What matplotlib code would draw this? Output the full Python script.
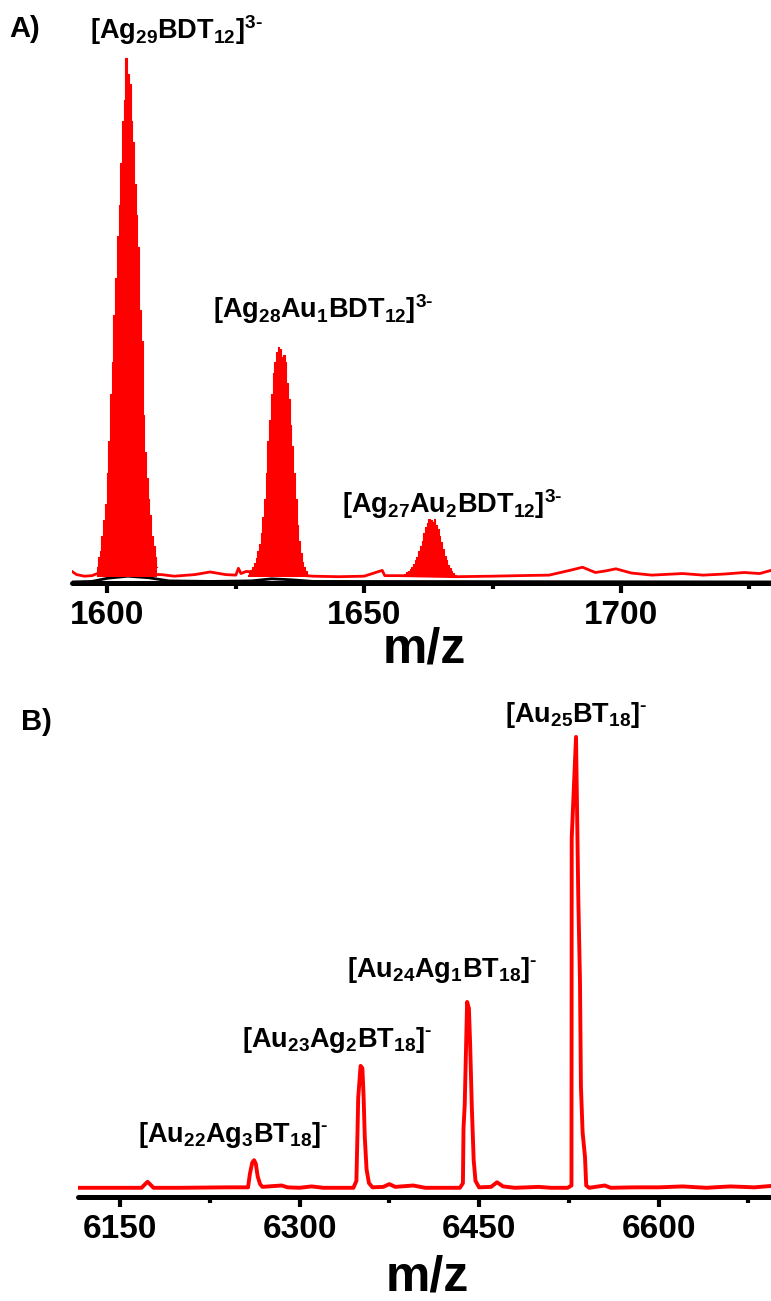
import numpy as np
import matplotlib
matplotlib.use("Agg")
import matplotlib.pyplot as plt

plt.rcParams["font.family"] = ["Liberation Sans", "DejaVu Sans"]
plt.rcParams["font.weight"] = "bold"
plt.rcParams["mathtext.fontset"] = "custom"
plt.rcParams["mathtext.bf"] = "Liberation Sans:bold"
plt.rcParams["mathtext.rm"] = "Liberation Sans:bold"
plt.rcParams["mathtext.it"] = "Liberation Sans:bold:italic"

RED = "#ff0000"
NARROW = ["Liberation Sans Narrow", "Liberation Sans", "DejaVu Sans"]
HY = "\u2010"  # short hyphen used for the charge sign

# ---------------- Panel A: ESI spectrum of Ag29(BDT)12 (3- ions) ----------------
iso_step_a = 1.0 / 3.0  # isotope spacing for a 3- ion

ag29_start = 1598.0
ag29_heights = [3, 5, 6, 9, 12, 15, 21, 27, 36, 42, 51, 58, 66, 72, 80, 88, 92, 100,
                97, 95, 88, 84, 76, 70, 64, 52, 46, 32, 25, 20, 16, 13, 9, 7, 5, 3]

ag28au1_start = 1627.33
ag28au1_heights = [1.5, 2, 2.5, 3, 3.8, 4.8, 6, 7.5, 9.5, 12.5, 16, 21, 27, 31, 36, 40, 42, 44,
                   45, 44.5, 43, 43.5, 42, 38, 35, 30, 26, 21, 16, 11, 8, 5.7, 4, 3, 2.2, 1.6]

ag27au2_start = 1657.33
ag27au2_heights = [1.4, 1.6, 1.8, 2.0, 2.3, 2.6, 3.0, 3.6, 4.3, 5.0, 6.0, 7.0, 8.0, 9.5, 10.7,
                   11.5, 12.2, 12.0, 11.6, 12.1, 11.0, 10.2, 9.0, 7.8, 6.5, 5.2, 4.3, 3.5, 2.8,
                   2.3, 1.9, 1.6, 1.4]

# red baseline (noise level between the clusters)
base_a_mz = [1593.1, 1594.0, 1595.5, 1597.0, 1598.0, 1610.5, 1613.0, 1617.0, 1620.0, 1623.0,
             1625.0, 1625.5, 1626.0, 1627.0, 1640.0, 1645.0, 1650.0, 1653.5, 1654.0, 1657.0,
             1668.0, 1675.0, 1680.0, 1686.0, 1690.0, 1692.5, 1695.0, 1697.0, 1699.0, 1702.0,
             1706.0, 1712.0, 1716.0, 1720.0, 1724.0, 1727.0, 1729.2]
base_a_int = [2.2, 1.6, 1.3, 1.4, 1.8, 1.6, 1.3, 1.6, 2.1, 1.6,
              1.5, 2.8, 1.8, 2.2, 1.3, 1.2, 1.3, 2.4, 1.4, 1.4,
              1.2, 1.3, 1.4, 1.5, 2.4, 3.0, 2.0, 2.3, 2.7, 1.9,
              1.5, 1.8, 1.5, 1.7, 2.0, 1.8, 2.4]

# second (black) trace lying close to the axis
black_a_mz = [1593.1, 1597.0, 1600.0, 1604.0, 1608.0, 1612.0, 1620.0, 1628.0, 1632.0,
              1636.0, 1640.0, 1729.2]
black_a_int = [0.2, 0.3, 0.9, 1.3, 1.0, 0.4, 0.3, 0.4, 0.8, 0.6, 0.3, 0.2]

ticks_a = [1600, 1650, 1700]
minor_a = [1625, 1675, 1725]
xlim_a = (1593.1, 1729.2)

# ---------------- Panel B: MALDI spectrum of Au25-xAgx(BT)18 (1- ions) ----------------
mz_b = [6114.9, 6140, 6168, 6171, 6173, 6175, 6178, 6200, 6240,
        6257, 6258.5, 6260.5, 6262, 6263.5, 6265, 6267, 6269,
        6285, 6290, 6300, 6310, 6320,
        6345, 6347.5, 6348.5, 6349, 6351, 6352.5, 6353.5, 6354.5, 6356, 6358, 6361,
        6370, 6375, 6380, 6395, 6405,
        6434, 6436.5, 6437, 6438, 6440, 6441.5, 6442.5, 6444, 6445.5, 6447, 6450,
        6460, 6465, 6470, 6480, 6500, 6510,
        6524, 6527.2, 6527.4, 6531.0, 6532.9, 6534.3, 6535.1, 6536.5, 6538.5, 6539.5, 6542,
        6555, 6560, 6580, 6600, 6620, 6640, 6660, 6680, 6694]
int_b = [2.0, 2.0, 2.0, 2.8, 3.3, 2.8, 2.0, 2.0, 2.1,
         2.1, 5.0, 7.5, 8.0, 7.2, 4.5, 2.8, 2.2,
         2.5, 2.1, 2.0, 2.3, 2.0,
         2.0, 3.5, 15.0, 21.5, 28.5, 28.0, 22.0, 13.0, 6.0, 3.0, 2.1,
         2.2, 2.8, 2.2, 2.5, 2.0,
         2.0, 3.0, 15.0, 20.0, 42.4, 41.0, 33.5, 19.0, 8.0, 3.5, 2.1,
         2.2, 3.2, 2.3, 2.0, 2.2, 2.0,
         2.0, 2.5, 78.0, 100.0, 65.0, 47.0, 24.0, 14.0, 8.7, 2.5, 2.0,
         2.5, 2.0, 2.1, 2.1, 2.3, 2.0, 2.3, 2.1, 2.4]

ticks_b = [6150, 6300, 6450, 6600]
minor_b = [6225, 6375, 6525, 6675]
xlim_b = (6114.9, 6693.9)

# ---------------- layout helpers (pixel -> figure fraction) ----------------
W, H = 771, 1301
fig = plt.figure(figsize=(W / 100, H / 100), dpi=100)


def fx(px):
    return px / W


def fy(py):
    return 1 - py / H


def style_axis(ax, ticks):
    for side in ("left", "top", "right"):
        ax.spines[side].set_visible(False)
    ax.spines["bottom"].set_linewidth(3.6)
    ax.spines["bottom"].set_capstyle("round")
    ax.set_yticks([])
    ax.set_xticks(ticks)
    ax.set_xticklabels([str(t) for t in ticks], family=NARROW, fontsize=24,
                       fontweight="bold")
    ax.tick_params(axis="x", which="major", direction="out", length=7, width=3, pad=5)
    ax.tick_params(axis="x", which="minor", direction="out", length=4.5, width=3)
    ax.patch.set_alpha(0)


# ---- Panel A ----
axA = fig.add_axes([fx(72), fy(583), fx(771) - fx(72), fy(20) - fy(583)])
axA.plot(black_a_mz, black_a_int, color="black", lw=2.0, zorder=1)
axA.plot(base_a_mz, base_a_int, color=RED, lw=2.0, zorder=2)
for start, heights in ((ag29_start, ag29_heights),
                       (ag28au1_start, ag28au1_heights),
                       (ag27au2_start, ag27au2_heights)):
    xs = start + iso_step_a * np.arange(len(heights))
    axA.fill_between(xs, 1.2, heights, step="mid", color=RED, lw=0, zorder=3)
    axA.step(xs, heights, where="mid", color=RED, lw=0.8, zorder=3)
axA.set_xlim(*xlim_a)
axA.set_ylim(0, 107.2)
axA.set_xticks(minor_a, minor=True)
style_axis(axA, ticks_a)

# ---- Panel B ----
axB = fig.add_axes([fx(78), fy(1197), fx(771) - fx(78), fy(690) - fy(1197)])
axB.plot(mz_b, int_b, color=RED, lw=2.8, zorder=3)
axB.set_xlim(*xlim_b)
axB.set_ylim(0, 110.2)
axB.set_xticks(minor_b, minor=True)
style_axis(axB, ticks_b)

# ---- axis titles ----
fig.text(fx(424), fy(649), "m/z", ha="center", va="center", fontsize=36,
         fontweight="bold", family=NARROW)
fig.text(fx(427), fy(1278), "m/z", ha="center", va="center", fontsize=36,
         fontweight="bold", family=NARROW)

# ---- panel letters ----
fig.text(fx(9), fy(29), "A)", ha="left", va="center", fontsize=21, fontweight="bold")
fig.text(fx(21), fy(722), "B)", ha="left", va="center", fontsize=21, fontweight="bold")

# ---- peak assignments ----
labels = [
    (90, 30, r"$\mathbf{[Ag_{29}BDT_{12}]^{3" + HY + "}}$"),
    (213, 309, r"$\mathbf{[Ag_{28}Au_{1}BDT_{12}]^{3" + HY + "}}$"),
    (342, 504, r"$\mathbf{[Ag_{27}Au_{2}BDT_{12}]^{3" + HY + "}}$"),
    (505, 715, r"$\mathbf{[Au_{25}BT_{18}]^{" + HY + "}}$"),
    (347, 970, r"$\mathbf{[Au_{24}Ag_{1}BT_{18}]^{" + HY + "}}$"),
    (242, 1040, r"$\mathbf{[Au_{23}Ag_{2}BT_{18}]^{" + HY + "}}$"),
    (138, 1135, r"$\mathbf{[Au_{22}Ag_{3}BT_{18}]^{" + HY + "}}$"),
]
for x, y, s in labels:
    fig.text(fx(x), fy(y), s, ha="left", va="center", fontsize=19.5)

fig.savefig("out.png", dpi=100)
